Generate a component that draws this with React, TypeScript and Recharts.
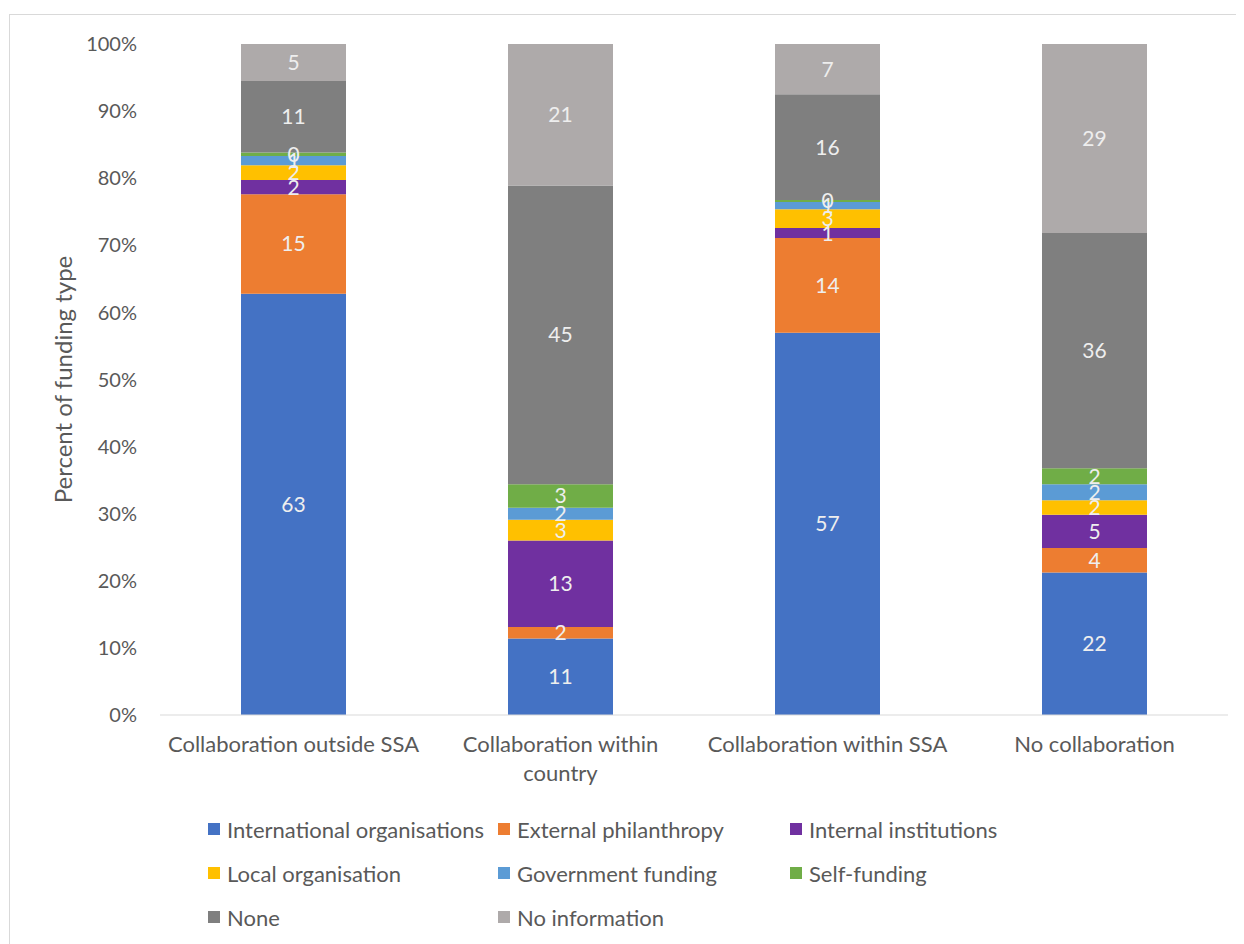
import { BarChart, Bar, XAxis, YAxis, Legend, LabelList } from "recharts";

const categories = [
  "Collaboration outside SSA",
  "Collaboration within country",
  "Collaboration within SSA",
  "No collaboration",
];

// how the category labels wrap under the axis
const categoryLines = [
  ["Collaboration outside SSA"],
  ["Collaboration within", "country"],
  ["Collaboration within SSA"],
  ["No collaboration"],
];

// percent share of each funding type per collaboration group
const internationalOrgs = [62.7, 11.4, 57.0, 21.5];
const externalPhilanthropy = [14.8, 1.7, 14.1, 3.7];
const internalInstitutions = [2.1, 12.9, 1.49, 5.0];
const localOrganisation = [2.2, 3.1, 2.8, 2.2];
const governmentFunding = [1.4, 1.8, 1.1, 2.4];
const selfFunding = [0.49, 3.49, 0.3, 2.4];
const noneFunding = [10.67, 44.5, 15.75, 35.5];
const noInformation = [5.49, 21.1, 7.49, 28.5];

const yTicks = [0, 0.1, 0.2, 0.3, 0.4, 0.5, 0.6, 0.7, 0.8, 0.9, 1];

const series = [
  { key: "intl", name: "International organisations", color: "#4472C4", values: internationalOrgs },
  { key: "ext", name: "External philanthropy", color: "#ED7D31", values: externalPhilanthropy },
  { key: "internal", name: "Internal institutions", color: "#7030A0", values: internalInstitutions },
  { key: "local", name: "Local organisation", color: "#FFC000", values: localOrganisation },
  { key: "gov", name: "Government funding", color: "#5B9BD5", values: governmentFunding },
  { key: "self", name: "Self-funding", color: "#70AD47", values: selfFunding },
  { key: "none", name: "None", color: "#7F7F7F", values: noneFunding },
  { key: "noinfo", name: "No information", color: "#AEAAAA", values: noInformation },
];

const data = categories.map((cat, i) => {
  const row: Record<string, string | number> = { category: cat };
  series.forEach((s) => {
    row[s.key] = s.values[i];
  });
  return row;
});

const FONT = "Lato, 'Open Sans', sans-serif";
const TEXT_COLOR = "#595959";

const CategoryTick = (props: any) => {
  const { x, y, payload } = props;
  const idx = categories.indexOf(payload.value);
  const lines = idx >= 0 ? categoryLines[idx] : [payload.value];
  return (
    <text
      x={x}
      y={y + 29}
      textAnchor="middle"
      fill={TEXT_COLOR}
      fontSize={22}
      fontFamily={FONT}
    >
      {lines.map((line: string, i: number) => (
        <tspan key={i} x={x} dy={i === 0 ? 0 : 29}>
          {line}
        </tspan>
      ))}
    </text>
  );
};

const LegendContent = () => (
  <div
    style={{
      display: "grid",
      gridTemplateColumns: "290px 292px 291px",
      gridAutoRows: "44px",
      height: 132,
      fontFamily: FONT,
      fontSize: 22,
      color: TEXT_COLOR,
    }}
  >
    {series.map((s) => (
      <div key={s.key} style={{ display: "flex", alignItems: "center", whiteSpace: "nowrap" }}>
        <span
          style={{
            display: "inline-block",
            width: 12,
            height: 12,
            background: s.color,
            marginRight: 7,
          }}
        />
        {s.name}
      </div>
    ))}
  </div>
);

const YLabel = (props: any) => {
  const { viewBox } = props;
  const cx = viewBox.x + 24;
  const cy = viewBox.y + viewBox.height / 2;
  return (
    <text
      x={cx}
      y={cy}
      transform={`rotate(-90, ${cx}, ${cy})`}
      textAnchor="middle"
      dominantBaseline="central"
      fill={TEXT_COLOR}
      fontSize={24}
      fontFamily={FONT}
    >
      Percent of funding type
    </text>
  );
};

export default function App() {
  return (
    <div style={{ width: 1236, height: 936, overflow: "hidden", position: "relative" }}>
      <div
        style={{
          position: "absolute",
          left: 1,
          top: 6,
          width: 1300,
          height: 1000,
          border: "1px solid #d9d9d9",
        }}
      />
      <BarChart
        width={1236}
        height={936}
        data={data}
        stackOffset="expand"
        margin={{ top: 36, right: 16, left: 30, bottom: 17 }}
        barSize={105}
        style={{ position: "absolute", left: 0, top: 0 }}
      >
        <XAxis
          dataKey="category"
          height={80}
          interval={0}
          tickLine={false}
          axisLine={{ stroke: "#d9d9d9" }}
          tick={<CategoryTick />}
        />
        <YAxis
          width={122}
          domain={[0, 1]}
          ticks={yTicks}
          tickFormatter={(v) => `${Math.round(v * 100)}%`}
          axisLine={false}
          tickLine={false}
          tickMargin={17}
          tick={{ fill: TEXT_COLOR, fontSize: 20, fontFamily: FONT }}
          label={<YLabel />}
        />
        {series.map((s) => (
          <Bar
            key={s.key}
            dataKey={s.key}
            name={s.name}
            stackId="a"
            fill={s.color}
            isAnimationActive={false}
          >
            <LabelList
              dataKey={s.key}
              position="center"
              formatter={(v: any) => Math.round(Number(v))}
              fill="#eeeeee"
              fontSize={21}
              fontFamily={FONT}
            />
          </Bar>
        ))}
        <Legend
          verticalAlign="bottom"
          content={<LegendContent />}
          wrapperStyle={{ top: 799, left: 200, width: 900, bottom: "auto" }}
        />
      </BarChart>
    </div>
  );
}
